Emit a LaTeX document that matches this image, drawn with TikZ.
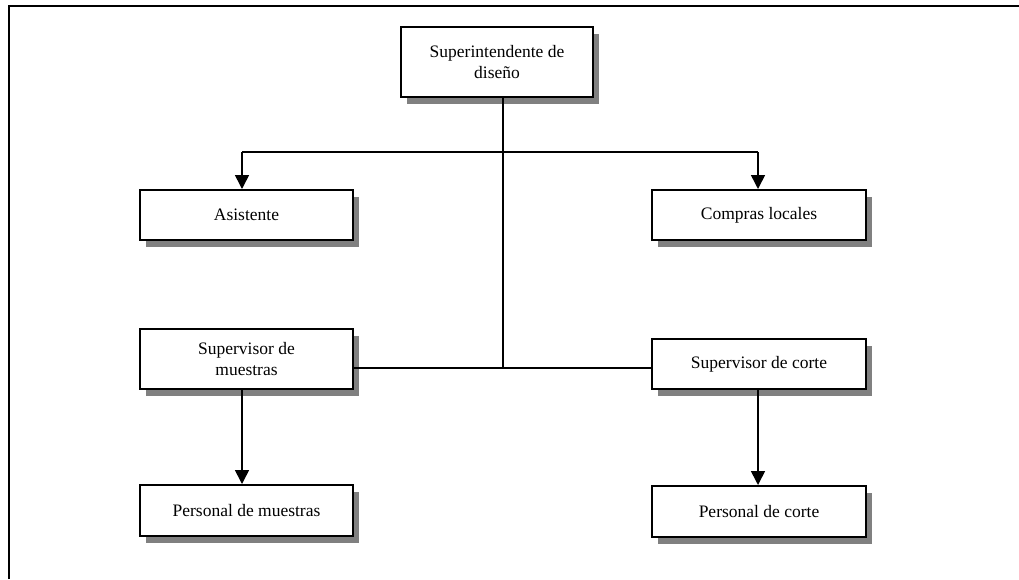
\documentclass[tikz,border=0pt]{standalone}
\usepackage{fontspec}
\setmainfont{Liberation Serif}
\usetikzlibrary{arrows.meta,shadows}
\begin{document}
\begin{tikzpicture}[x=1pt,y=-1pt,
  orgbox/.style={draw=black, line width=2pt, fill=white, rectangle,
    align=center, inner sep=0pt, font=\fontsize{17.5}{21}\selectfont,
    drop shadow={shadow xshift=6pt, shadow yshift=-7pt, fill=gray, opacity=1}},
  link/.style={line width=1.6pt, draw=black},
  arrowlink/.style={link, -{Triangle[width=14pt,length=14pt]}}
]
\useasboundingbox (0,0) rectangle (1019,579);
% frame
\draw[line width=2.5pt] (9,579) -- (9,6) -- (1019,6);

% boxes
\node[orgbox, minimum width=192pt, minimum height=70pt] (top) at (497,62) {Superintendente de\\dise\~no};
\node[orgbox, minimum width=213pt, minimum height=50pt] (asis) at (246.5,215) {Asistente};
\node[orgbox, minimum width=214pt, minimum height=50pt] (comp) at (759,215) {Compras locales};
\node[orgbox, minimum width=213pt, minimum height=60pt] (supm) at (246.5,359) {Supervisor de\\muestras};
\node[orgbox, minimum width=214pt, minimum height=50pt] (supc) at (759,364) {Supervisor de corte};
\node[orgbox, minimum width=213pt, minimum height=51pt] (perm) at (246.5,510.5) {Personal de muestras};
\node[orgbox, minimum width=214pt, minimum height=51pt] (perc) at (759,511.5) {Personal de corte};

% connector guide positions
\coordinate (trunk) at (503,0);
\coordinate (leftx) at (242,0);
\coordinate (rightx) at (758,0);
\coordinate (branch) at (0,152);
\coordinate (base) at (0,368);

% connectors
\draw[link] (top.south -| trunk) -- (trunk |- base);
\draw[link] (leftx |- branch) -- (rightx |- branch);
\draw[arrowlink] (leftx |- branch) -- (asis.north -| leftx);
\draw[arrowlink] (rightx |- branch) -- (comp.north -| rightx);
\draw[link] (supm.east |- base) -- (supc.west |- base);
\draw[arrowlink] (supm.south -| leftx) -- (perm.north -| leftx);
\draw[arrowlink] (supc.south -| rightx) -- (perc.north -| rightx);
\end{tikzpicture}
\end{document}
